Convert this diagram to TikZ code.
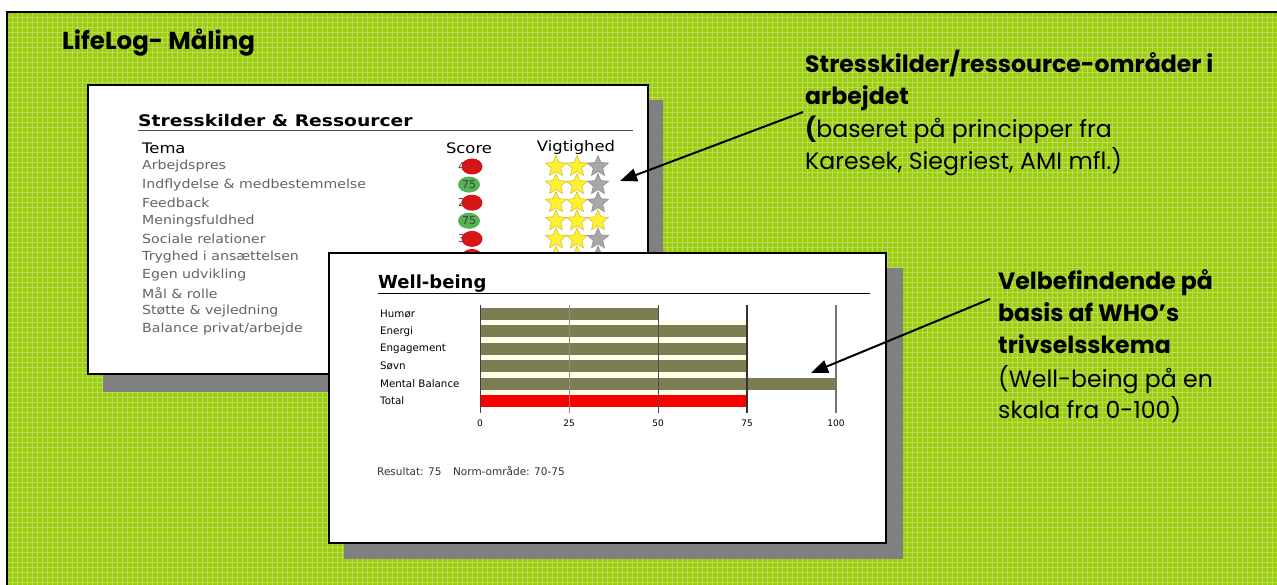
\documentclass[tikz,border=0pt]{standalone}
\usepackage{fontspec}
\usetikzlibrary{arrows.meta,shapes.geometric}
\newfontfamily\pop{Poppins}
\newfontfamily\dvs{DejaVu Sans}
\definecolor{bggreen}{RGB}{156,205,12}
\definecolor{shade}{RGB}{128,128,128}
\definecolor{olive}{RGB}{124,125,82}
\definecolor{rowgray}{RGB}{100,100,100}
\definecolor{scorered}{RGB}{214,22,22}
\definecolor{scoregreen}{RGB}{84,178,84}
\definecolor{staryellow}{RGB}{255,240,50}
\definecolor{staredge}{RGB}{215,195,40}
\definecolor{stargray}{RGB}{168,168,168}
\definecolor{cream}{RGB}{255,255,236}
\definecolor{barred}{RGB}{250,0,0}
\newcommand\stretchx[1]{\scalebox{1.13}[1]{#1}}
\tikzset{
  panel/.style={draw=black,line width=2.5pt,fill=white},
  shadowbox/.style={fill=shade},
  rowtext/.style={anchor=west,text=rowgray,font=\dvs\fontsize{12.5}{14}\selectfont,inner sep=0pt},
  headtext/.style={font=\dvs\fontsize{14.5}{16}\selectfont,inner sep=0pt},
  redscore/.style={ellipse,fill=scorered,minimum width=21pt,minimum height=16pt,inner sep=0pt},
  greenscore/.style={ellipse,fill=scoregreen,minimum width=22pt,minimum height=16pt,inner sep=0pt,font=\dvs\fontsize{11}{12}\selectfont,text=black!75},
  scorenum/.style={font=\dvs\fontsize{11}{12}\selectfont,text=black!75,inner sep=0pt},
  ystar/.style={star,star points=5,star point ratio=2.2,minimum size=22pt,inner sep=0pt,fill=staryellow,draw=staredge,line width=0.6pt},
  gstar/.style={star,star points=5,star point ratio=2.2,minimum size=22pt,inner sep=0pt,fill=stargray,draw=stargray!85!black,line width=0.6pt},
  wblabel/.style={anchor=west,font=\dvs\fontsize{10.3}{12}\selectfont,inner sep=0pt},
  axlabel/.style={font=\dvs\fontsize{9}{10}\selectfont,inner sep=0pt},
  sidebold/.style={anchor=base west,font=\pop\bfseries\fontsize{23.6}{26}\selectfont,inner sep=0pt},
  sidereg/.style={anchor=base west,font=\pop\fontsize{23.6}{26}\selectfont,inner sep=0pt},
  callout/.style={line width=2pt,-{Triangle[length=17pt,width=13pt]}}
}
\begin{document}
\begin{tikzpicture}[x=1pt,y=-1pt]
\useasboundingbox (0,0) rectangle (1277,585);
\fill[white] (0,0) rectangle (1277,585);
\fill[bggreen] (7,12) rectangle (1277,585);
\begin{scope}
\clip (7,12) rectangle (1277,585);
\draw[white,line width=0.8pt,opacity=0.33]
  \foreach \i in {0,...,254} {(7+5*\i,12) -- (7+5*\i,585)}
  \foreach \j in {0,...,115} {(7,12+5*\j) -- (1277,12+5*\j)};
\end{scope}
\draw[line width=2.5pt] (7,585) -- (7,12) -- (1277,12);

\node[anchor=base west,font=\pop\bfseries\fontsize{24.5}{28}\selectfont,inner sep=0pt] (title) at (62,50) {LifeLog- Måling};

% ---------- panel 1
\fill[shadowbox] (103,100) rectangle (663,392);
\draw[panel] (88,85) rectangle (648,374);
\node[anchor=base west,font=\dvs\bfseries\fontsize{16}{18}\selectfont,inner sep=0pt] (p1title) at (138,127) {\scalebox{1.17}[1]{Stresskilder \& Ressourcer}};
\draw[line width=1pt,black!70] (138,131) -- (633,131);
\node[headtext,anchor=west] (tema) at (142,148) {\stretchx{Tema}};
\node[headtext] (score) at (469,148) {\stretchx{Score}};
\node[headtext] (vigt) at (576,148) {\stretchx{Vigtighed}};
\foreach \t [count=\k] in {Arbejdspres,Indflydelse \& medbestemmelse,Feedback,Meningsfuldhed,Sociale relationer,Tryghed i ansættelsen,Egen udvikling,Mål \& rolle,Støtte \& vejledning,Balance privat/arbejde}
  \node[rowtext] (row\k) at (142,{166.5+18.1*(\k-1)}) {\stretchx{\t}};
% scores
\foreach \v/\k in {40/1,25/3,30/5,50/6}{
  \node[scorenum] (sn\k) at (465,{166.5+18.1*(\k-1)}) {\v};
  \node[redscore] (sc\k) at (472,{166.5+18.1*(\k-1)}) {};
}
\foreach \k in {2,4}
  \node[greenscore] (sc\k) at (469,{166.5+18.1*(\k-1)}) {75};
% stars
\foreach \k/\n in {1/2,2/2,3/2,4/3,5/2,6/2}{
  \foreach \s in {1,2,3}{
    \ifnum\s>\n
      \node[gstar] (st\k-\s) at ({535+21*\s},{166.5+18.1*(\k-1)}) {};
    \else
      \node[ystar] (st\k-\s) at ({535+21*\s},{166.5+18.1*(\k-1)}) {};
    \fi
  }
}

% ---------- panel 2
\fill[shadowbox] (344,268) rectangle (903,559);
\draw[panel] (329,253) rectangle (886,543);
\node[anchor=base west,font=\dvs\bfseries\fontsize{18}{20}\selectfont,inner sep=0pt] (wbtitle) at (378,289) {Well-being};
\draw[line width=1pt] (378,294) -- (870,294);
\fill[cream] (480,320) rectangle (747,395);
\foreach \v/\c [count=\k] in {50/olive,75/olive,75/olive,75/olive,100/olive,75/barred}
  \fill[\c] (480,{308+17.4*(\k-1)}) rectangle ({480+3.56*\v},{320+17.4*(\k-1)});
\draw[black!75,line width=0.8pt] (480,305) -- (480,413);
\draw[black!45,line width=0.8pt] (569,305) -- (569,413);
\draw[black!70,line width=0.9pt] (658,305) -- (658,413);
\draw[black!80,line width=2pt] (747,305) -- (747,413);
\draw[black!55,line width=1.2pt] (836,305) -- (836,413);
\foreach \t [count=\k] in {Humør,Energi,Engagement,Søvn,Mental Balance,Total}
  \node[wblabel] (wb\k) at (380,{314+17.4*(\k-1)}) {\t};
\foreach \v [count=\k] in {0,25,50,75,100}
  \node[axlabel] (ax\k) at ({480+89*(\k-1)},423) {\v};
\node[anchor=west,font=\dvs\fontsize{10.5}{12}\selectfont,text=black!80,inner sep=0pt] (res) at (377,471) {Resultat: 75\hspace{1.1em}Norm-område: 70-75};

% ---------- side texts
\node[sidebold] (s1a) at (805,73) {Stresskilder/ressource-områder i};
\node[sidebold] (s1b) at (805,105) {arbejdet};
\node[sidereg] (s1c) at (805,138) {\textbf{(}baseret på principper fra};
\node[sidereg] (s1d) at (805,170) {Karesek, Siegriest, AMI mfl.)};
\node[sidebold] (s2a) at (998,290) {Velbefindende på};
\node[sidebold] (s2b) at (998,322) {basis af WHO’s};
\node[sidebold] (s2c) at (998,353) {trivselsskema};
\node[sidereg] (s2d) at (998,387) {(Well-being på en};
\node[sidereg] (s2e) at (998,418) {skala fra 0-100)};

\coordinate (a1s) at (803,112);
\coordinate (a1e) at (620,181);
\draw[callout] (a1s) -- (a1e);
\coordinate (a2s) at (990,299);
\coordinate (a2e) at (811,373);
\draw[callout] (a2s) -- (a2e);
\end{tikzpicture}
\end{document}
